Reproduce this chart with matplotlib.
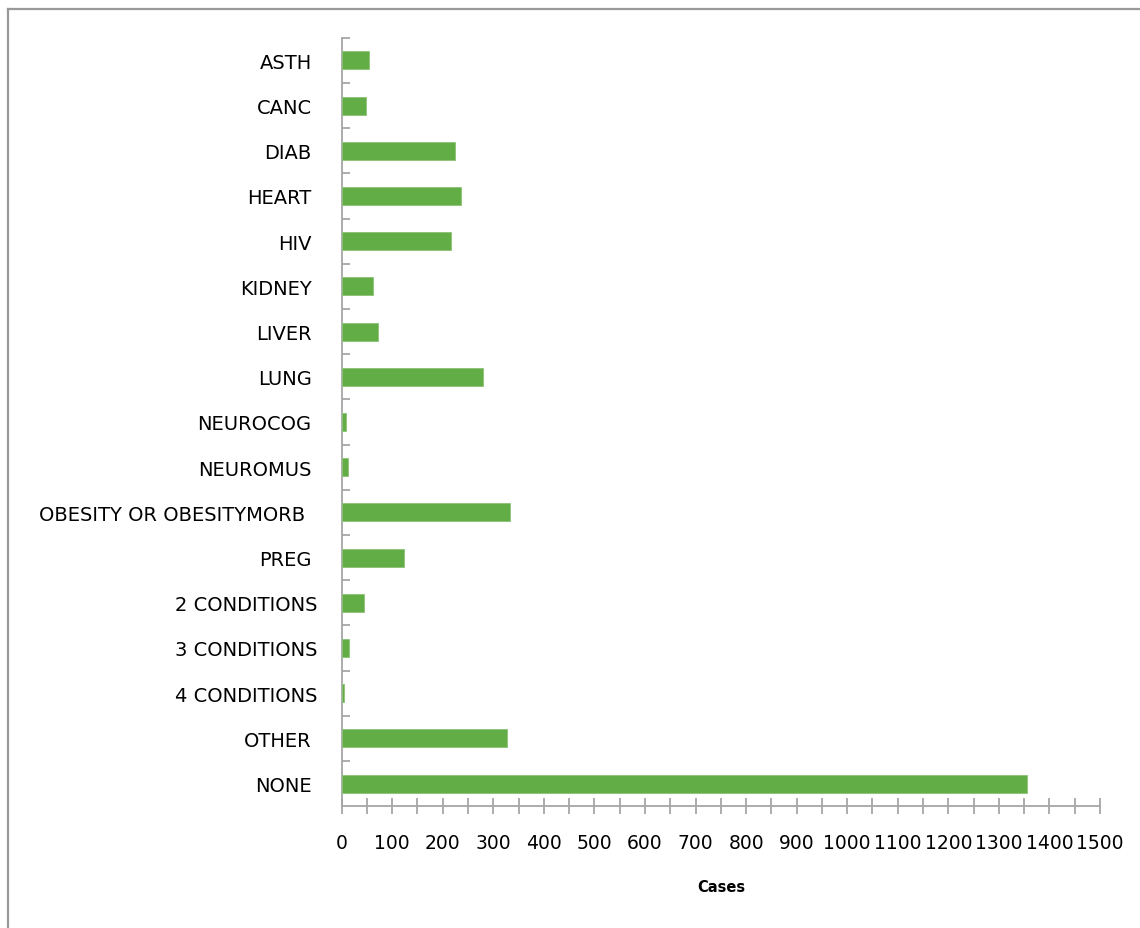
import matplotlib
matplotlib.use("Agg")
import matplotlib.pyplot as plt
from matplotlib.lines import Line2D
from matplotlib.ticker import MultipleLocator, FixedLocator

categories = ["ASTH", "CANC", "DIAB", "HEART", "HIV", "KIDNEY", "LIVER", "LUNG",
              "NEUROCOG", "NEUROMUS", "OBESITY OR OBESITYMORB", "PREG",
              "2 CONDITIONS", "3 CONDITIONS", "4 CONDITIONS", "OTHER", "NONE"]
cases = [54, 49, 225, 237, 217, 62, 72, 280, 9, 13, 332, 123, 44, 14, 4, 327, 1355]
x_ticks = list(range(0, 1501, 100))

bar_color = "#62AD46"
axis_color = "#A6A6A6"

plt.rcParams["font.family"] = ["DejaVu Sans"]

fig = plt.figure(figsize=(11.4, 9.29), dpi=100)
ax = fig.add_axes([0.2997, 0.1311, 0.6652, 0.8272])

pos = list(range(len(categories)))
ax.barh(pos, cases, height=0.4, color=bar_color, edgecolor="#8CC276",
        linewidth=0.6, zorder=3)

ax.set_ylim(len(categories) - 0.5, -0.5)
ax.set_xlim(0, 1500)

# spines
for s in ("top", "right"):
    ax.spines[s].set_visible(False)
for s in ("left", "bottom"):
    ax.spines[s].set_color(axis_color)
    ax.spines[s].set_linewidth(1.3)

# y axis: labels at category centres, ticks on category boundaries
ax.set_yticks(pos)
ax.set_yticklabels(categories, fontsize=14, color="#000000")
ax.tick_params(axis="y", which="major", length=0, pad=21.6)
ax.yaxis.set_minor_locator(FixedLocator([p - 0.5 for p in pos]))
ax.tick_params(axis="y", which="minor", direction="in", length=5.5,
               width=1.3, color=axis_color)
for i, t in enumerate(ax.yaxis.get_major_ticks()):
    name = categories[i]
    if "CONDITIONS" in name:
        t.set_pad(17.3)
    elif name.startswith("OBESITY"):
        t.set_pad(26.6)

# x axis: crossing ticks every 50, labels every 100
ax.set_xticks(x_ticks)
ax.set_xticklabels([str(v) for v in x_ticks], fontsize=13.5, color="#000000")
ax.xaxis.set_minor_locator(MultipleLocator(50))
ax.tick_params(axis="x", which="both", direction="inout", length=12,
               width=1.3, color=axis_color)
ax.tick_params(axis="x", which="major", pad=13)

ax.set_xlabel("Cases", fontsize=10.5, fontweight="bold", labelpad=20)

# outer chart frame
fig.add_artist(Line2D([8 / 1140, 8 / 1140], [0, 1 - 9.5 / 929],
                      transform=fig.transFigure, color="#999999", lw=1.6))
fig.add_artist(Line2D([8 / 1140, 1], [1 - 9.5 / 929, 1 - 9.5 / 929],
                      transform=fig.transFigure, color="#999999", lw=1.6))

fig.savefig("out.png", dpi=100)
